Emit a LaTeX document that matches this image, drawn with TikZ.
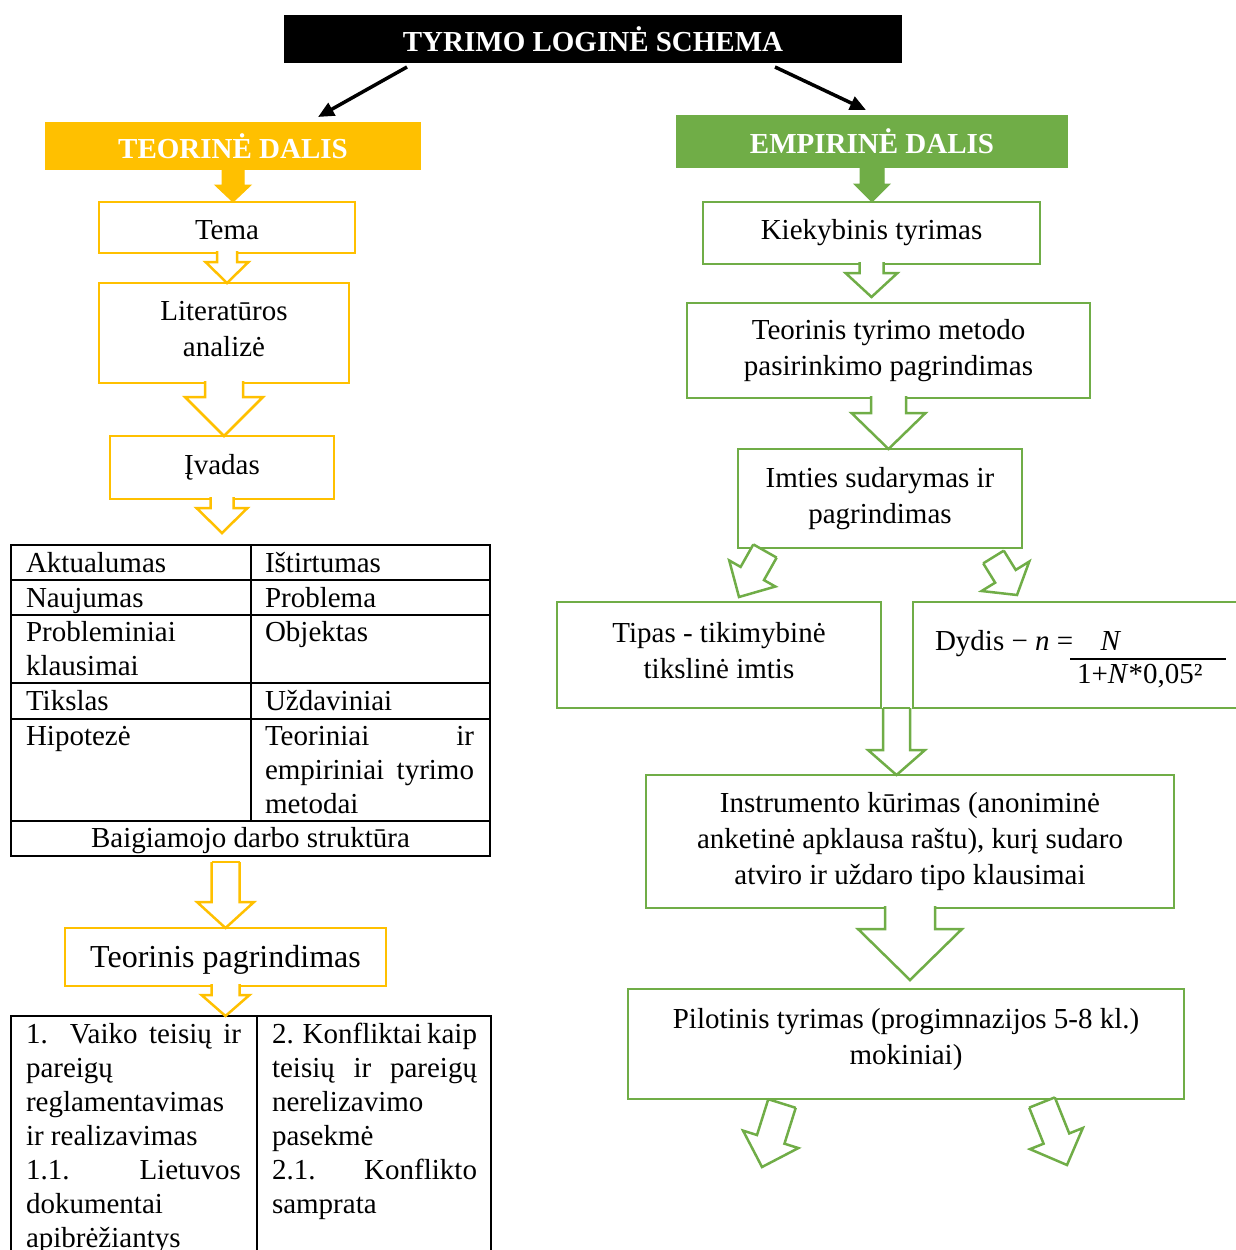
\documentclass[tikz,border=0pt]{standalone}
\usepackage{fontspec}
\setmainfont{Liberation Serif}
\usetikzlibrary{calc,arrows.meta}
\definecolor{gold}{HTML}{FFC000}
\definecolor{leaf}{HTML}{70AD47}
\hbadness=10000

% block arrow: style, name, tail, tip, half shaft, half head, head length
\newcommand{\hollowarrow}[7]{%
  \coordinate (#2-h) at ($(#4)!#7!(#3)$);
  \coordinate (#2-a) at ($(#3)!#5!90:(#4)$);
  \coordinate (#2-g) at ($(#3)!#5!-90:(#4)$);
  \filldraw[#1] (#2-a) -- ($(#2-h)!#5!90:(#4)$) -- ($(#2-h)!#6!90:(#4)$) -- (#4)
    -- ($(#2-h)!#6!-90:(#4)$) -- ($(#2-h)!#5!-90:(#4)$) -- (#2-g);
}
\newcommand{\lowstrut}[1]{\rule[-#1]{0pt}{0pt}}

\begin{document}
\fontsize{29}{34}\selectfont
\begin{tikzpicture}[x=1pt,y=-1pt]
\tikzset{ >={Triangle[length=16pt,width=14pt]}, inner sep=0pt, outer sep=0pt,
  head/.style={font=\bfseries, text=white, minimum height=48pt},
  gbox/.style={draw=gold, line width=2.5pt, fill=white, align=center, font=\fontsize{29}{36}\selectfont},
  lbox/.style={draw=leaf, line width=2.5pt, fill=white, align=center, font=\fontsize{29}{36}\selectfont},
  garr/.style={draw=gold, line width=2.5pt, fill=white},
  larr/.style={draw=leaf, line width=2.5pt, fill=white},
  grid/.style={draw, line width=2pt},
  cell/.style={anchor=base west, align=justify},
}
\useasboundingbox (0,0) rectangle (1235,1250);
%\draw [lightgray, dashed](0,0) grid[step=50] (1235,1250);

\node [head, fill=black, minimum width=618pt] (TITLE) at (593,39) {TYRIMO LOGINĖ SCHEMA};
\node [head, fill=gold, minimum width=376pt] (TEOR) at (233,146) {TEORINĖ DALIS};
\node [head, fill=leaf, minimum width=392pt, minimum height=53pt] (EMP) at (872,141.5) {EMPIRINĖ DALIS};

\coordinate (T1) at (407,67);
\coordinate (T2) at (775,67);
\draw [->, line width=3.5pt] (T1) -- ($(TEOR.north)+(85,-5)$);
\draw [->, line width=3.5pt] (T2) -- ($(EMP.north)+(-6,-5)$);

% teorine dalis
\node [gbox, minimum width=256pt, minimum height=51pt, text height=23pt, text depth=0pt] (TEMA) at (227,227.5) {Tema};
\node [gbox, minimum width=250pt, minimum height=100pt] (LIT) at (224,333) {Literatūros\\analizė\lowstrut{8pt}};
\node [gbox, minimum width=224pt, minimum height=63pt] (IVAD) at (222,467.5) {Įvadas};
\node [gbox, minimum width=321pt, minimum height=58pt, text depth=2pt, font=\fontsize{32}{36}\selectfont] (TPAGR) at (225.5,957) {Teorinis pagrindimas};

\node [grid, minimum width=479pt, minimum height=311pt] (TAB1) at (250.5,700.5) {};
\foreach \y in {580,615,683,719,821}
  \draw [line width=2pt] (11,\y) -- (490,\y);
\draw [line width=2pt] (251,545) -- (251,821);

\node [cell, text width=215pt] (C11) at (26,572) {Aktualumas};
\node [cell, text width=209pt] (C12) at (265,572) {Ištirtumas};
\node [cell, text width=215pt] (C21) at (26,607) {Naujumas};
\node [cell, text width=209pt] (C22) at (265,607) {Problema};
\node [cell, text width=215pt] (C31) at (26,641) {Probleminiai\\klausimai};
\node [cell, text width=209pt] (C32) at (265,641) {Objektas};
\node [cell, text width=215pt] (C41) at (26,710) {Tikslas};
\node [cell, text width=209pt] (C42) at (265,710) {Uždaviniai};
\node [cell, text width=215pt] (C51) at (26,745) {Hipotezė};
\node [cell, text width=209pt] (C52) at (265,745) {Teoriniai ir\linebreak empiriniai tyrimo\linebreak metodai};
\node [anchor=base] (C61) at (250.5,847) {Baigiamojo darbo struktūra};

\node [grid, minimum width=480pt, minimum height=246pt] (TAB2) at (251,1139) {};
\draw [line width=2pt] (257,1016) -- (257,1262);
\node [cell, text width=215pt] (D1) at (26,1043) {1. Vaiko teisių ir\linebreak pareigų\\reglamentavimas\\ir realizavimas\\1.1. Lietuvos\linebreak dokumentai\\apibrėžiantys};
\node [cell, text width=205pt] (D2) at (272,1043) {2. Konfliktai kaip\linebreak teisių ir pareigų\linebreak nerelizavimo\\pasekmė\\2.1. Konflikto\linebreak samprata};

% empirine dalis
\node [lbox, minimum width=337pt, minimum height=62pt] (KIEK) at (871.5,233) {Kiekybinis tyrimas};
\node [lbox, minimum width=403pt, minimum height=95pt] (TMET) at (888.5,350.5) {Teorinis tyrimo metodo\\pasirinkimo pagrindimas};
\node [lbox, minimum width=284pt, minimum height=99pt] (IMT) at (880,498.5) {Imties sudarymas ir\\pagrindimas};
\node [lbox, minimum width=324pt, minimum height=106pt] (TIP) at (719,655) {Tipas - tikimybinė\\tikslinė imtis\lowstrut{10pt}};
\node [lbox, minimum width=334pt, minimum height=106pt] (DYD) at (1080,655) {};
\node [anchor=base west] (DYDT) at (935,650) {Dydis − \textit{n} =};
\node [anchor=base] (NUM) at (1111,650) {\textit{N}};
\node [anchor=base west] (DEN) at (1077,683) {1+\textit{N}*0,05²};
\draw [line width=1.5pt] (1070,659) -- (1226,659);
\node [lbox, minimum width=528pt, minimum height=133pt] (INS) at (910,841.5) {Instrumento kūrimas (anoniminė\\anketinė apklausa raštu), kurį sudaro\\atviro ir uždaro tipo klausimai};
\node [lbox, minimum width=556pt, minimum height=110pt] (PIL) at (906,1044) {Pilotinis tyrimas (progimnazijos 5-8 kl.)\\mokiniai)\lowstrut{15pt}};

% rodykles
\coordinate (A1t) at ($(TEOR.south)+(0,-2)$);
\coordinate (A1h) at (A1t |- TEMA.north);
\hollowarrow{draw=gold, fill=gold, line width=1pt}{A1}{A1t}{A1h}{11pt}{18pt}{17pt}
\coordinate (A2t) at ($(TEMA.south)+(0,-2)$);
\coordinate (A2h) at (A2t |- LIT.north);
\hollowarrow{garr}{A2}{A2t}{A2h}{10pt}{21.5pt}{21pt}
\coordinate (A3t) at ($(LIT.south)+(0,-2)$);
\coordinate (A3h) at (A3t |- IVAD.north);
\hollowarrow{garr}{A3}{A3t}{A3h}{19pt}{39pt}{39pt}
\coordinate (A4t) at ($(IVAD.south)+(0,-2)$);
\coordinate (A4h) at ($(IVAD.south)+(0,34)$);
\hollowarrow{garr}{A4}{A4t}{A4h}{11.5pt}{25.5pt}{25pt}
\coordinate (A5t) at ($(TAB1.south)+(-25,6)$);
\coordinate (A5h) at (A5t |- TPAGR.north);
\hollowarrow{garr}{A5}{A5t}{A5h}{14pt}{28.5pt}{26pt}
\draw [gold, line width=2.5pt] (A5-a) -- (A5-g);
\coordinate (A6t) at ($(TPAGR.south)+(0,-2)$);
\coordinate (A6h) at (A6t |- TAB2.north);
\hollowarrow{garr}{A6}{A6t}{A6h}{14pt}{24pt}{21pt}

\coordinate (A7t) at ($(EMP.south)+(0,-2)$);
\coordinate (A7h) at (A7t |- KIEK.north);
\hollowarrow{draw=leaf, fill=leaf, line width=1pt}{A7}{A7t}{A7h}{12pt}{18pt}{18pt}
\coordinate (A8t) at ($(KIEK.south)+(0,-2)$);
\coordinate (A8h) at ($(KIEK.south)+(0,33)$);
\hollowarrow{larr}{A8}{A8t}{A8h}{12pt}{26pt}{24pt}
\coordinate (A9t) at ($(TMET.south)+(0,-2)$);
\coordinate (A9h) at (A9t |- IMT.north);
\hollowarrow{larr}{A9}{A9t}{A9h}{17.5pt}{37pt}{36pt}
\coordinate (A10t) at ($(IMT.south west)+(27,3)$);
\coordinate (A10h) at ($(TIP.north)+(20,-5)$);
\hollowarrow{larr}{A10}{A10t}{A10h}{13.4pt}{26.5pt}{27pt}
\draw [leaf, line width=2.5pt] (A10-a) -- (A10-g);
\coordinate (A11t) at ($(IMT.south east)+(-28.5,9)$);
\coordinate (A11h) at ($(DYD.north)+(-63,-7)$);
\hollowarrow{larr}{A11}{A11t}{A11h}{12.1pt}{28pt}{22pt}
\draw [leaf, line width=2.5pt] (A11-a) -- (A11-g);
\coordinate (A12t) at ($(TIP.south east)+(15.5,0)$);
\coordinate (A12h) at (A12t |- INS.north);
\hollowarrow{larr}{A12}{A12t}{A12h}{13.5pt}{28.5pt}{25pt}
\draw [leaf, line width=2.5pt] (A12-a) -- (A12-g);
\coordinate (A13t) at ($(INS.south)+(0,-2)$);
\coordinate (A13h) at ($(INS.south)+(0,72)$);
\hollowarrow{larr}{A13}{A13t}{A13h}{25pt}{52pt}{51pt}
\coordinate (A14t) at ($(PIL.south west)+(154,4.5)$);
\coordinate (A14h) at ($(PIL.south west)+(134,68)$);
\hollowarrow{larr}{A14}{A14t}{A14h}{14.4pt}{29pt}{29pt}
\draw [leaf, line width=2.5pt] (A14-a) -- (A14-g);
\coordinate (A15t) at ($(PIL.south east)+(-142,3.5)$);
\coordinate (A15h) at ($(PIL.south east)+(-117,66)$);
\hollowarrow{larr}{A15}{A15t}{A15h}{13.8pt}{28.5pt}{28.5pt}
\draw [leaf, line width=2.5pt] (A15-a) -- (A15-g);

\end{tikzpicture}
\end{document}
